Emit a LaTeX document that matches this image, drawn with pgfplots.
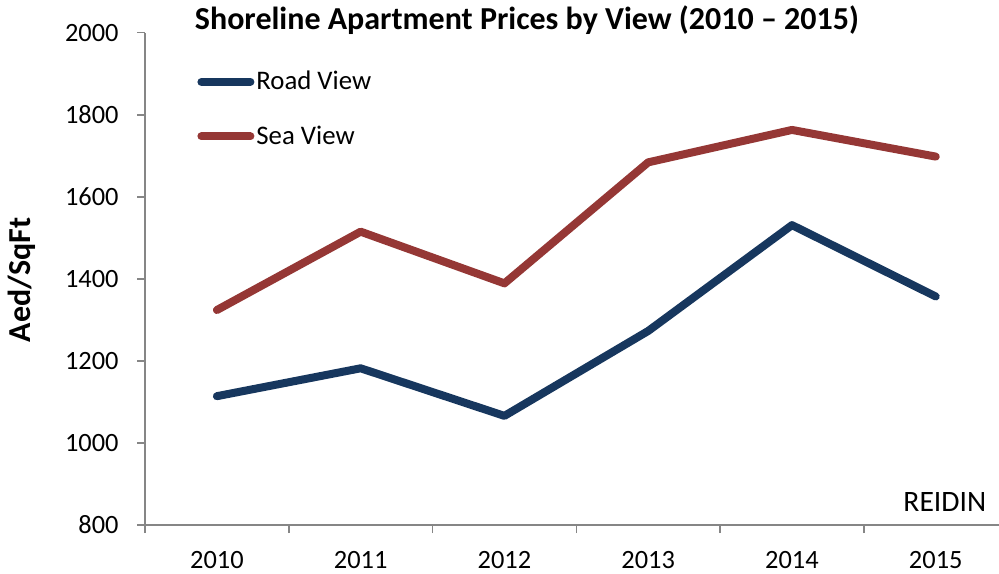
\documentclass[border=0pt]{standalone}
\usepackage{pgfplots}
\pgfplotsset{compat=1.18}
\usepackage{fontspec}
\setmainfont{Carlito}
\definecolor{roadblue}{HTML}{17375E}
\definecolor{seared}{HTML}{953735}
\definecolor{axisgray}{HTML}{868686}

\begin{document}
\begin{tikzpicture}
\path[use as bounding box] (-72.5pt,-24pt) rectangle (427pt,262.5pt);
\begin{axis}[
  scale only axis, width=427pt, height=246.15pt,
  at={(0,0)}, anchor=south west,
  xmin=-0.5, xmax=5.44, ymin=800, ymax=2000,
  axis lines=left,
  axis line style={axisgray, line width=0.8pt, -},
  xtick={0,1,2,3,4,5},
  xticklabels={2010,2011,2012,2013,2014,2015},
  minor xtick={-0.5,0.5,1.5,2.5,3.5,4.5},
  major x tick style={draw=none},
  ytick={800,1000,1200,1400,1600,1800,2000},
  yticklabels={800,1000,1200,1400,1600,1800,2000},
  tick align=outside,
  tick style={axisgray, line width=0.8pt},
  major tick length=4pt, minor tick length=4pt,
  ticklabel style={font=\fontsize{13.2}{15}\selectfont, text=black},
  xticklabel style={anchor=north, inner sep=0pt, yshift=-9pt},
  yticklabel style={anchor=east, inner sep=0pt, xshift=-9pt},
  legend style={draw=none, fill=none, at={(rel axis cs:0,1)}, anchor=north west,
    xshift=26pt, yshift=-17pt, font=\fontsize{13.4}{15}\selectfont,
    inner sep=0pt, row sep=12.5pt, cells={anchor=west},
    nodes={inner xsep=1pt}},
  legend image code/.code={\draw[#1, line cap=round] (2pt,0pt) -- (26.5pt,0pt);},
  every axis plot/.append style={line width=4pt, line join=round, line cap=round, mark=none},
]
\addplot[color=roadblue] coordinates {
  (0,1114) (1,1182) (2,1066) (3,1273) (4,1531) (5,1357)
};
\addlegendentry{Road View}
\addplot[color=seared] coordinates {
  (0,1324) (1,1515) (2,1389) (3,1684) (4,1763) (5,1698)
};
\addlegendentry{Sea View}
\end{axis}
\node[font=\bfseries\fontsize{16}{18}\selectfont, anchor=base] at (191pt,247.85pt)
  {Shoreline Apartment Prices by View (2010 -- 2015)};
\node[font=\bfseries\fontsize{16}{18}\selectfont, rotate=90] at (-61.5pt,122.5pt) {Aed/SqFt};
\node[font=\fontsize{14.8}{17}\selectfont, anchor=base east, inner sep=0pt] at (420.8pt,6.65pt) {REIDIN};
\end{tikzpicture}
\end{document}
